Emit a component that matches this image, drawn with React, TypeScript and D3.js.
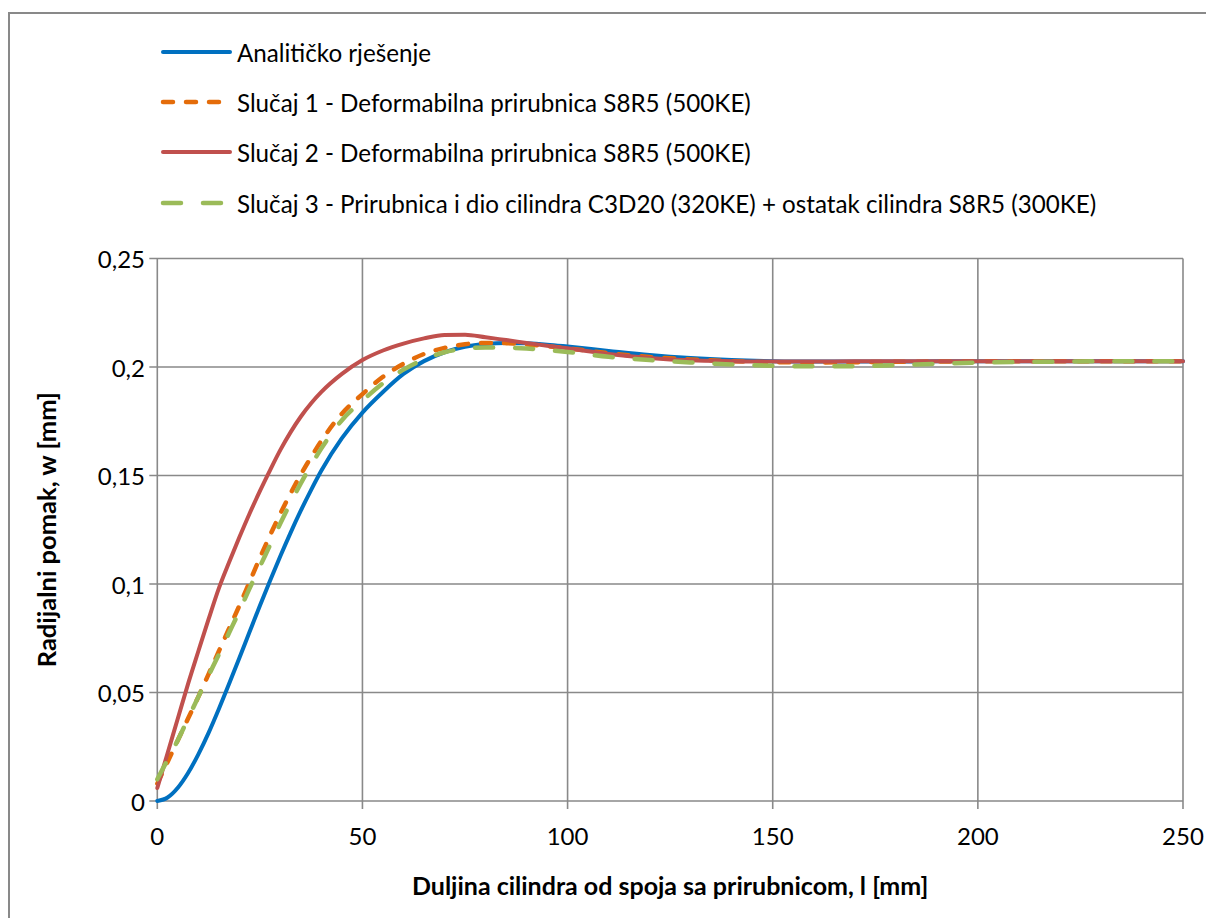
import React from 'react';
import * as d3 from 'd3';

const lengthMm = [0, 2.5, 5, 7.5, 10, 12.5, 15, 17.5, 20, 22.5, 25, 27.5, 30, 32.5, 35, 37.5, 40, 45, 50, 55, 60, 65, 70, 75, 80, 85, 90, 95, 100, 110, 120, 130, 140, 150, 160, 170, 180, 190, 200, 210, 220, 230, 240, 250];

const analytic = [0, 0.0016, 0.0061, 0.0129, 0.0215, 0.0314, 0.0424, 0.054, 0.0659, 0.078, 0.090, 0.1016, 0.1129, 0.1237, 0.1339, 0.1434, 0.1523, 0.1672, 0.179, 0.1885, 0.1968, 0.2027, 0.2068, 0.2093, 0.2106, 0.2111, 0.2109, 0.2103, 0.2094, 0.2074, 0.2055, 0.2041, 0.2032, 0.2027, 0.2025, 0.2025, 0.2025, 0.2026, 0.2026, 0.2026, 0.2026, 0.2026, 0.2026, 0.2026];

const case1 = [0.008, 0.018, 0.028, 0.038, 0.048, 0.0585, 0.069, 0.0795, 0.09, 0.101, 0.112, 0.1225, 0.1325, 0.1418, 0.1505, 0.1585, 0.166, 0.1785, 0.1875, 0.1955, 0.2015, 0.206, 0.2088, 0.2105, 0.2111, 0.211, 0.2104, 0.2096, 0.2086, 0.2064, 0.2046, 0.2035, 0.2027, 0.2022, 0.2021, 0.2022, 0.2024, 0.2025, 0.2026, 0.2027, 0.2027, 0.2027, 0.2027, 0.2027];

const case2 = [0.006, 0.022, 0.038, 0.054, 0.069, 0.0838, 0.098, 0.110, 0.1215, 0.1325, 0.1428, 0.1525, 0.1618, 0.17, 0.1772, 0.1833, 0.1885, 0.1968, 0.2032, 0.2076, 0.2108, 0.2132, 0.2148, 0.2149, 0.2137, 0.2124, 0.2111, 0.2098, 0.2086, 0.206, 0.2042, 0.2031, 0.2027, 0.2025, 0.2025, 0.2026, 0.2026, 0.2027, 0.2027, 0.2027, 0.2027, 0.2027, 0.2027, 0.2027];

const case3 = [0.010, 0.019, 0.028, 0.038, 0.048, 0.0578, 0.0675, 0.0775, 0.0875, 0.098, 0.108, 0.118, 0.128, 0.1375, 0.1465, 0.1548, 0.1625, 0.1755, 0.1845, 0.1925, 0.1988, 0.2035, 0.2068, 0.2084, 0.209, 0.2089, 0.2085, 0.2078, 0.2069, 0.2047, 0.2032, 0.2021, 0.2012, 0.2006, 0.2003, 0.2004, 0.2009, 0.2015, 0.202, 0.2023, 0.2025, 0.2026, 0.2026, 0.2026];

const seriesNames = [
  'Analitičko rješenje',
  'Slučaj 1 - Deformabilna prirubnica S8R5 (500KE)',
  'Slučaj 2 - Deformabilna prirubnica S8R5 (500KE)',
  'Slučaj 3 - Prirubnica i dio cilindra C3D20 (320KE) + ostatak cilindra S8R5 (300KE)',
];
const seriesValues = [analytic, case1, case2, case3];
const seriesColors = ['#0070C0', '#E46C0A', '#C0504D', '#9BBB59'];
const seriesDash = [null, '10 13', null, '18 22'];
const seriesWidth = [4, 4.5, 4, 4.5];

const xTicks = [0, 50, 100, 150, 200, 250];
const yTicks = [0, 0.05, 0.1, 0.15, 0.2, 0.25];
const xTitle = 'Duljina cilindra od spoja sa prirubnicom, l [mm]';
const yTitle = 'Radijalni pomak, w [mm]';

const W = 1206;
const H = 918;
const plot = { left: 157.3, right: 1183, top: 258.5, bottom: 801 };
const FONT = 'Lato, "Open Sans", sans-serif';
const GRID = '#898989';

export default function App() {
  const x = d3.scaleLinear().domain([0, 250]).range([plot.left, plot.right]);
  const y = d3.scaleLinear().domain([0, 0.25]).range([plot.bottom, plot.top]);
  const fmt = (v: number) => String(v).replace('.', ',');

  const line = (vals: number[]) =>
    d3
      .line<number>()
      .x((_, i) => x(lengthMm[i]))
      .y((d) => y(d))
      .curve(d3.curveMonotoneX)(vals) || '';

  const legendRows = [52, 102, 152, 203];

  return (
    <svg
      width={W}
      height={H}
      style={{ position: 'absolute', left: 0, top: 0, background: '#fff' }}
      fontFamily={FONT}
    >
      <rect x={0} y={0} width={W} height={H} fill="#fff" />
      <rect x={9} y={13} width={W + 20} height={H + 20} fill="none" stroke={GRID} strokeWidth={2} />

      {yTicks.map((t) => (
        <line key={'gy' + t} x1={plot.left - 8} x2={plot.right} y1={y(t)} y2={y(t)} stroke={GRID} strokeWidth={1.6} />
      ))}
      {xTicks.map((t) => (
        <line key={'gx' + t} x1={x(t)} x2={x(t)} y1={plot.top} y2={plot.bottom + 8} stroke={GRID} strokeWidth={1.6} />
      ))}

      {yTicks.map((t) => (
        <text key={'ty' + t} x={145} y={y(t)} textAnchor="end" dominantBaseline="central" fontSize={24} fill="#000">
          {fmt(t)}
        </text>
      ))}
      {xTicks.map((t) => (
        <text key={'tx' + t} x={x(t)} y={835} textAnchor="middle" dominantBaseline="central" fontSize={24} fill="#000">
          {fmt(t)}
        </text>
      ))}

      <text x={(plot.left + plot.right) / 2} y={885} textAnchor="middle" dominantBaseline="central" fontSize={25} fontWeight="bold">
        {xTitle}
      </text>
      <text
        transform={`translate(46, ${(plot.top + plot.bottom) / 2}) rotate(-90)`}
        textAnchor="middle"
        dominantBaseline="central"
        fontSize={25.5}
        fontWeight="bold"
      >
        {yTitle}
      </text>

      <g>
        {seriesValues.map((vals, i) => (
          <path
            key={'s' + i}
            d={line(vals)}
            fill="none"
            stroke={seriesColors[i]}
            strokeWidth={seriesWidth[i]}
            strokeLinecap="round"
            strokeLinejoin="round"
            strokeDasharray={seriesDash[i] || undefined}
          />
        ))}
      </g>

      {seriesNames.map((name, i) => (
        <g key={'l' + i}>
          <line
            x1={163}
            x2={230}
            y1={legendRows[i]}
            y2={legendRows[i]}
            stroke={seriesColors[i]}
            strokeWidth={seriesWidth[i]}
            strokeLinecap="round"
            strokeDasharray={seriesDash[i] || undefined}
          />
          <text x={237} y={legendRows[i]} dominantBaseline="central" fontSize={24.2} fill="#000">
            {name}
          </text>
        </g>
      ))}
    </svg>
  );
}
